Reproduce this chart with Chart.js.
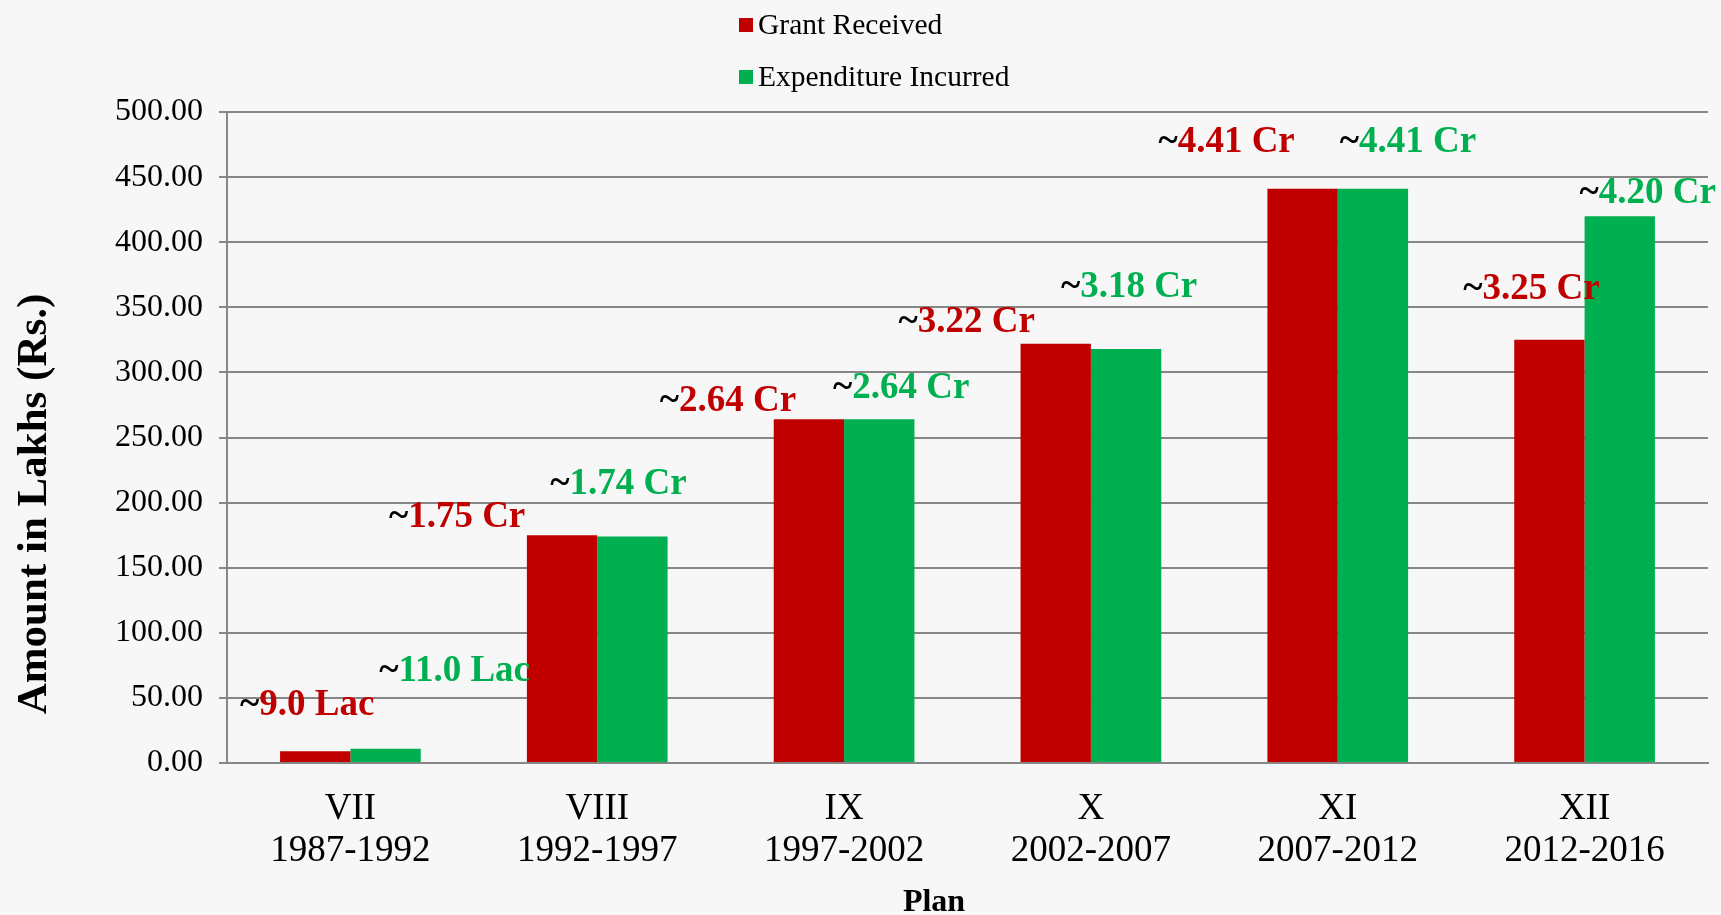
<!DOCTYPE html>
<html lang="en">
<head>
    <meta charset="UTF-8">
    <title>Grant vs Expenditure</title>
    <script src="https://cdn.jsdelivr.net/npm/chart.js"></script>
    <style>
        html, body { margin: 0; padding: 0; background: #f7f7f7; }
        #wrap { width: 1721px; height: 915px; }
    </style>
</head>
<body>
<div id="wrap"><canvas id="planChart"></canvas></div>
<script>
    // plan periods (two-line tick labels)
    const plans = [
        ["VII", "1987-1992"],
        ["VIII", "1992-1997"],
        ["IX", "1997-2002"],
        ["X", "2002-2007"],
        ["XI", "2007-2012"],
        ["XII", "2012-2016"]
    ];
    const grantReceived = [9, 175, 264, 322, 441, 325];
    const expenditureIncurred = [11, 174, 264, 318, 441, 420];
    const grantText = ["9.0 Lac", "1.75 Cr", "2.64 Cr", "3.22 Cr", "4.41 Cr", "3.25 Cr"];
    const expenditureText = ["11.0 Lac", "1.74 Cr", "2.64 Cr", "3.18 Cr", "4.41 Cr", "4.20 Cr"];
    const xTitle = 'Plan';
    const yTitle = 'Amount in Lakhs (Rs.)';

    const serif = "'Times New Roman', 'Liberation Serif', serif";
    const RED = '#c00000';
    const GREEN = '#00b050';
    const GRID = '#868686';

    // where each value label sits relative to the top of its bar (px)
    const labelShift = [
        [[-8, -46], [-105, -18], [-81, -18], [-89, -21], [-76, -46], [-18, -50]],
        [[69, -77], [-14, -52], [22, -31], [3, -62], [35, -46], [28, -23]]
    ];
    const labelText = [grantText, expenditureText];

    const valueLabels = {
        id: 'valueLabels',
        afterDatasetsDraw(chart) {
            const ctx = chart.ctx;
            ctx.save();
            ctx.textBaseline = 'middle';
            ctx.textAlign = 'left';
            ctx.font = 'bold 37px ' + serif;
            chart.data.datasets.forEach((ds, di) => {
                chart.getDatasetMeta(di).data.forEach((bar, i) => {
                    const cx = bar.x + labelShift[di][i][0];
                    const cy = bar.y + labelShift[di][i][1];
                    const tw = ctx.measureText('~').width;
                    const vw = ctx.measureText(labelText[di][i]).width;
                    const x = cx - (tw + vw) / 2;
                    ctx.fillStyle = '#000';
                    ctx.fillText('~', x, cy);
                    ctx.fillStyle = ds.backgroundColor;
                    ctx.fillText(labelText[di][i], x + tw, cy);
                });
            });
            ctx.restore();
        }
    };

    // stacked legend at the top and the two axis titles
    const extras = {
        id: 'extras',
        afterDraw(chart) {
            const ctx = chart.ctx;
            ctx.save();
            ctx.font = '29.5px ' + serif;
            ctx.textBaseline = 'middle';
            ctx.textAlign = 'left';
            chart.data.datasets.forEach((ds, i) => {
                const y = 25 + i * 52;
                ctx.fillStyle = ds.backgroundColor;
                ctx.fillRect(739, y - 7, 14, 14);
                ctx.fillStyle = '#000';
                ctx.fillText(ds.label, 758, y + 1);
            });

            ctx.fillStyle = '#000';
            ctx.textAlign = 'center';
            ctx.font = 'bold 32px ' + serif;
            ctx.fillText(xTitle, 934, 903);

            ctx.translate(35, 504);
            ctx.rotate(-Math.PI / 2);
            ctx.font = 'bold 43px ' + serif;
            ctx.fillText(yTitle, 0, 0);
            ctx.restore();
        }
    };

    new Chart(document.getElementById('planChart'), {
        type: 'bar',
        data: {
            labels: plans,
            datasets: [{
                label: 'Grant Received',
                data: grantReceived,
                backgroundColor: RED
            }, {
                label: 'Expenditure Incurred',
                data: expenditureIncurred,
                backgroundColor: GREEN
            }]
        },
        options: {
            responsive: true,
            maintainAspectRatio: false,
            animation: false,
            datasets: {
                bar: { categoryPercentage: 0.57, barPercentage: 1.0 }
            },
            layout: { padding: { top: 112, right: 13, left: 0, bottom: 0 } },
            plugins: {
                legend: { display: false },
                tooltip: { enabled: false }
            },
            scales: {
                x: {
                    afterFit(scale) { scale.height = 152; },
                    grid: { display: false },
                    border: { color: GRID, width: 2 },
                    ticks: {
                        color: '#000',
                        padding: 18,
                        font: { family: serif, size: 37, lineHeight: 1.12 },
                        maxRotation: 0
                    }
                },
                y: {
                    min: 0,
                    max: 500,
                    afterFit(scale) { scale.width = 227; },
                    grid: { color: GRID, lineWidth: 2, tickLength: 8 },
                    border: { color: GRID, width: 2 },
                    ticks: {
                        stepSize: 50,
                        color: '#000',
                        padding: 16,
                        font: { family: serif, size: 32 },
                        callback: (v) => v.toFixed(2)
                    }
                }
            }
        },
        plugins: [valueLabels, extras]
    });
</script>
</body>
</html>
